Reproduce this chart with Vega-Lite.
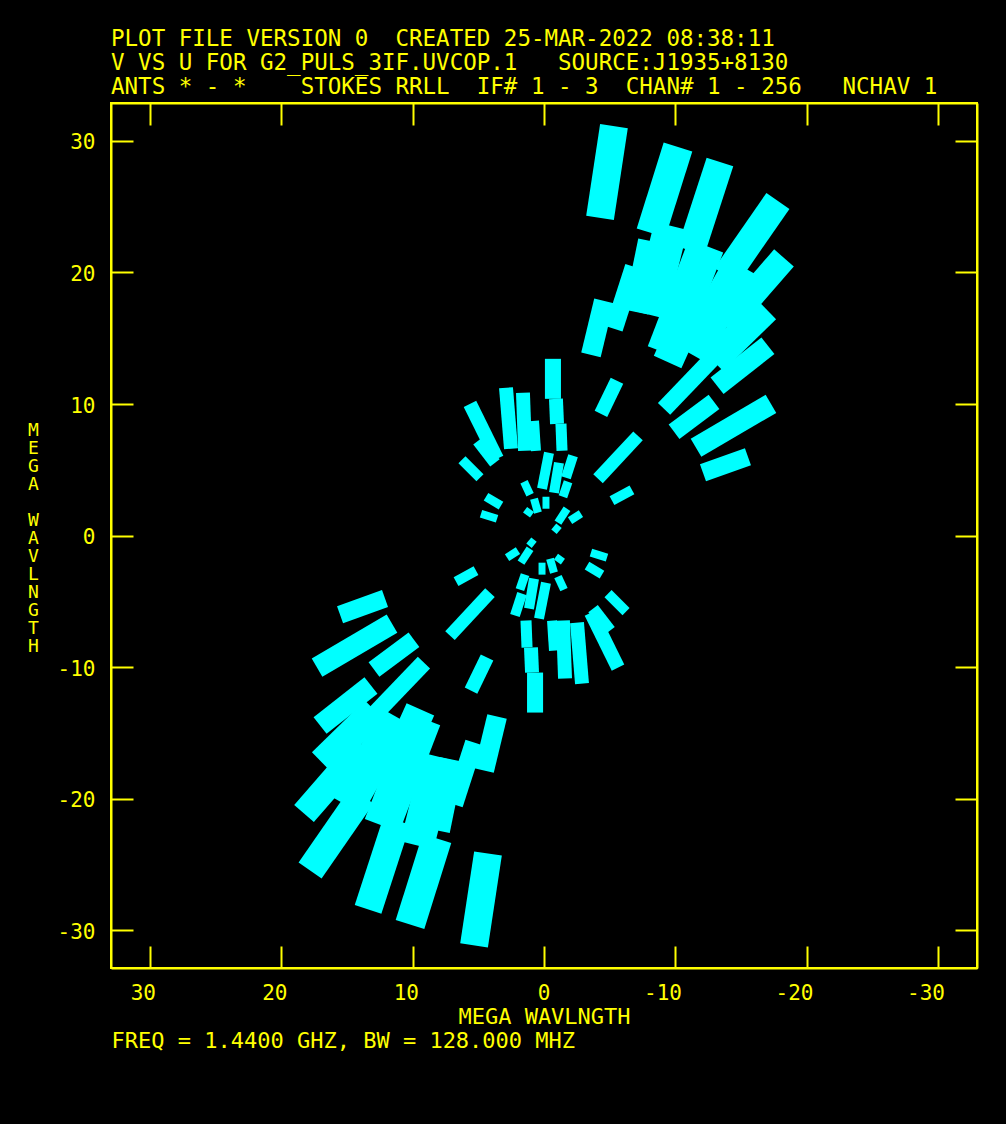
{
  "$schema": "https://vega.github.io/schema/vega-lite/v6.json",
  "width": 866,
  "height": 865,
  "autosize": "none",
  "padding": {"left": 111, "top": 103, "right": 29, "bottom": 156},
  "background": "#000000",
  "config": {
    "view": {"stroke": "#ffff00", "strokeWidth": 2},
    "axis": {
      "domainColor": "#ffff00", "domainWidth": 2,
      "tickColor": "#ffff00", "tickWidth": 2,
      "labelColor": "#ffff00", "labelFont": "DejaVu Sans Mono", "labelFontSize": 21,
      "titleColor": "#ffff00", "titleFont": "DejaVu Sans Mono", "titleFontSize": 22, "titleFontWeight": "normal",
      "grid": false
    }
  },
  "title": {
    "text": ["PLOT FILE VERSION 0 \u00a0CREATED 25-MAR-2022 08:38:11", "V VS U FOR G2_PULS_3IF.UVCOP.1 \u00a0\u00a0SOURCE:J1935+8130", "ANTS * - * \u00a0\u00a0\u00a0STOKES RRLL \u00a0IF# 1 - 3 \u00a0CHAN# 1 - 256 \u00a0\u00a0NCHAV 1"],
    "anchor": "start", "frame": "group",
    "font": "DejaVu Sans Mono", "fontSize": 22.5, "fontWeight": "normal",
    "color": "#ffff00", "lineHeight": 24, "offset": 4
  },
  "data": {"values": [
    {"u1": -5.32, "v1": 31.13, "u2": -4.26, "v2": 24.15, "w": 2.13},
    {"u1": -10.19, "v1": 29.54, "u2": -8.14, "v2": 23.01, "w": 2.28},
    {"u1": -13.38, "v1": 28.40, "u2": -11.18, "v2": 21.64, "w": 2.13},
    {"u1": -17.79, "v1": 25.44, "u2": -13.84, "v2": 19.74, "w": 2.13},
    {"u1": -18.25, "v1": 21.11, "u2": -13.76, "v2": 15.95, "w": 1.98},
    {"u1": -4.56, "v1": 17.84, "u2": -3.57, "v2": 13.74, "w": 1.52},
    {"u1": -6.84, "v1": 20.43, "u2": -5.32, "v2": 15.72, "w": 1.37},
    {"u1": -8.10, "v1": 22.40, "u2": -7.00, "v2": 17.00, "w": 1.9},
    {"u1": -9.66, "v1": 23.54, "u2": -7.98, "v2": 16.80, "w": 2.6},
    {"u1": -12.32, "v1": 22.02, "u2": -9.20, "v2": 13.90, "w": 2.8},
    {"u1": -14.98, "v1": 20.50, "u2": -11.18, "v2": 13.80, "w": 2.7},
    {"u1": -16.88, "v1": 17.24, "u2": -12.85, "v2": 13.30, "w": 2.2},
    {"u1": -11.20, "v1": 17.20, "u2": -9.40, "v2": 13.20, "w": 2.3},
    {"u1": -12.85, "v1": 13.52, "u2": -9.13, "v2": 9.64, "w": 1.29},
    {"u1": -17.03, "v1": 14.43, "u2": -13.16, "v2": 11.39, "w": 1.6},
    {"u1": -12.93, "v1": 10.17, "u2": -9.89, "v2": 7.90, "w": 1.37},
    {"u1": -17.26, "v1": 10.02, "u2": -11.56, "v2": 6.68, "w": 1.6},
    {"u1": -15.51, "v1": 6.00, "u2": -12.09, "v2": 4.78, "w": 1.37},
    {"u1": -7.15, "v1": 7.59, "u2": -4.11, "v2": 4.33, "w": 0.99},
    {"u1": -5.55, "v1": 11.77, "u2": -4.33, "v2": 9.26, "w": 1.06},
    {"u1": -6.69, "v1": 3.49, "u2": -5.17, "v2": 2.66, "w": 0.76},
    {"u1": -0.68, "v1": 13.44, "u2": -0.68, "v2": 10.40, "w": 1.22},
    {"u1": -0.91, "v1": 10.40, "u2": -0.99, "v2": 8.50, "w": 1.06},
    {"u1": -1.29, "v1": 8.50, "u2": -1.37, "v2": 6.45, "w": 0.84},
    {"u1": 2.89, "v1": 11.24, "u2": 2.51, "v2": 6.61, "w": 1.06},
    {"u1": 1.60, "v1": 10.86, "u2": 1.44, "v2": 6.45, "w": 1.06},
    {"u1": 5.63, "v1": 10.02, "u2": 3.57, "v2": 5.85, "w": 1.06},
    {"u1": 5.02, "v1": 7.21, "u2": 3.73, "v2": 5.54, "w": 0.91},
    {"u1": 0.76, "v1": 8.73, "u2": 0.61, "v2": 6.45, "w": 0.76},
    {"u1": 6.24, "v1": 5.77, "u2": 4.87, "v2": 4.40, "w": 0.76},
    {"u1": 4.41, "v1": 2.96, "u2": 3.27, "v2": 2.28, "w": 0.68},
    {"u1": 4.79, "v1": 1.67, "u2": 3.57, "v2": 1.29, "w": 0.61},
    {"u1": -0.38, "v1": 6.30, "u2": 0.15, "v2": 3.57, "w": 0.76},
    {"u1": -1.14, "v1": 5.54, "u2": -0.76, "v2": 3.26, "w": 0.76},
    {"u1": -2.21, "v1": 6.07, "u2": -1.67, "v2": 4.40, "w": 0.76},
    {"u1": -1.83, "v1": 4.10, "u2": -1.44, "v2": 2.96, "w": 0.68},
    {"u1": 1.52, "v1": 4.10, "u2": 1.06, "v2": 3.11, "w": 0.61},
    {"u1": 0.76, "v1": 2.81, "u2": 0.46, "v2": 1.75, "w": 0.61},
    {"u1": -0.15, "v1": 2.96, "u2": -0.15, "v2": 2.05, "w": 0.53},
    {"u1": 1.44, "v1": 1.97, "u2": 0.91, "v2": 1.59, "w": 0.53},
    {"u1": -1.75, "v1": 2.05, "u2": -1.06, "v2": 0.99, "w": 0.61},
    {"u1": -2.81, "v1": 1.67, "u2": -1.98, "v2": 1.14, "w": 0.61},
    {"u1": -1.14, "v1": 0.76, "u2": -0.76, "v2": 0.30, "w": 0.53},

    {"u1": 5.32, "v1": -31.13, "u2": 4.26, "v2": -24.15, "w": 2.13},
    {"u1": 10.19, "v1": -29.54, "u2": 8.14, "v2": -23.01, "w": 2.28},
    {"u1": 13.38, "v1": -28.40, "u2": 11.18, "v2": -21.64, "w": 2.13},
    {"u1": 17.79, "v1": -25.44, "u2": 13.84, "v2": -19.74, "w": 2.13},
    {"u1": 18.25, "v1": -21.11, "u2": 13.76, "v2": -15.95, "w": 1.98},
    {"u1": 4.56, "v1": -17.84, "u2": 3.57, "v2": -13.74, "w": 1.52},
    {"u1": 6.84, "v1": -20.43, "u2": 5.32, "v2": -15.72, "w": 1.37},
    {"u1": 8.10, "v1": -22.40, "u2": 7.00, "v2": -17.00, "w": 1.9},
    {"u1": 9.66, "v1": -23.54, "u2": 7.98, "v2": -16.80, "w": 2.6},
    {"u1": 12.32, "v1": -22.02, "u2": 9.20, "v2": -13.90, "w": 2.8},
    {"u1": 14.98, "v1": -20.50, "u2": 11.18, "v2": -13.80, "w": 2.7},
    {"u1": 16.88, "v1": -17.24, "u2": 12.85, "v2": -13.30, "w": 2.2},
    {"u1": 11.20, "v1": -17.20, "u2": 9.40, "v2": -13.20, "w": 2.3},
    {"u1": 12.85, "v1": -13.52, "u2": 9.13, "v2": -9.64, "w": 1.29},
    {"u1": 17.03, "v1": -14.43, "u2": 13.16, "v2": -11.39, "w": 1.6},
    {"u1": 12.93, "v1": -10.17, "u2": 9.89, "v2": -7.90, "w": 1.37},
    {"u1": 17.26, "v1": -10.02, "u2": 11.56, "v2": -6.68, "w": 1.6},
    {"u1": 15.51, "v1": -6.00, "u2": 12.09, "v2": -4.78, "w": 1.37},
    {"u1": 7.15, "v1": -7.59, "u2": 4.11, "v2": -4.33, "w": 0.99},
    {"u1": 5.55, "v1": -11.77, "u2": 4.33, "v2": -9.26, "w": 1.06},
    {"u1": 6.69, "v1": -3.49, "u2": 5.17, "v2": -2.66, "w": 0.76},
    {"u1": 0.68, "v1": -13.44, "u2": 0.68, "v2": -10.40, "w": 1.22},
    {"u1": 0.91, "v1": -10.40, "u2": 0.99, "v2": -8.50, "w": 1.06},
    {"u1": 1.29, "v1": -8.50, "u2": 1.37, "v2": -6.45, "w": 0.84},
    {"u1": -2.89, "v1": -11.24, "u2": -2.51, "v2": -6.61, "w": 1.06},
    {"u1": -1.60, "v1": -10.86, "u2": -1.44, "v2": -6.45, "w": 1.06},
    {"u1": -5.63, "v1": -10.02, "u2": -3.57, "v2": -5.85, "w": 1.06},
    {"u1": -5.02, "v1": -7.21, "u2": -3.73, "v2": -5.54, "w": 0.91},
    {"u1": -0.76, "v1": -8.73, "u2": -0.61, "v2": -6.45, "w": 0.76},
    {"u1": -6.24, "v1": -5.77, "u2": -4.87, "v2": -4.40, "w": 0.76},
    {"u1": -4.41, "v1": -2.96, "u2": -3.27, "v2": -2.28, "w": 0.68},
    {"u1": -4.79, "v1": -1.67, "u2": -3.57, "v2": -1.29, "w": 0.61},
    {"u1": 0.38, "v1": -6.30, "u2": -0.15, "v2": -3.57, "w": 0.76},
    {"u1": 1.14, "v1": -5.54, "u2": 0.76, "v2": -3.26, "w": 0.76},
    {"u1": 2.21, "v1": -6.07, "u2": 1.67, "v2": -4.40, "w": 0.76},
    {"u1": 1.83, "v1": -4.10, "u2": 1.44, "v2": -2.96, "w": 0.68},
    {"u1": -1.52, "v1": -4.10, "u2": -1.06, "v2": -3.11, "w": 0.61},
    {"u1": -0.76, "v1": -2.81, "u2": -0.46, "v2": -1.75, "w": 0.61},
    {"u1": 0.15, "v1": -2.96, "u2": 0.15, "v2": -2.05, "w": 0.53},
    {"u1": -1.44, "v1": -1.97, "u2": -0.91, "v2": -1.59, "w": 0.53},
    {"u1": 1.75, "v1": -2.05, "u2": 1.06, "v2": -0.99, "w": 0.61},
    {"u1": 2.81, "v1": -1.67, "u2": 1.98, "v2": -1.14, "w": 0.61},
    {"u1": 1.14, "v1": -0.76, "u2": 0.76, "v2": -0.30, "w": 0.53}
  ]},
  "resolve": {"axis": {"x": "independent", "y": "independent"}},
  "layer": [
    {
      "mark": {"type": "rule", "color": "#00ffff", "strokeCap": "butt"},
      "encoding": {
        "x": {"field": "u1", "type": "quantitative",
          "scale": {"domain": [-32.93, 32.93], "reverse": true, "nice": false, "zero": false},
          "axis": {"orient": "bottom", "values": [-30, -20, -10, 0, 10, 20, 30], "tickSize": -22,
            "labelPadding": 36, "labelAlign": "right", "labelOffset": 6, "labelExpr": "'' + datum.value",
            "title": "MEGA WAVLNGTH", "titleY": 38, "titleBaseline": "top"}},
        "y": {"field": "v1", "type": "quantitative",
          "scale": {"domain": [-32.85, 32.88], "nice": false, "zero": false},
          "axis": {"orient": "left", "values": [-30, -20, -10, 0, 10, 20, 30], "tickSize": -22,
            "labelPadding": 38, "labelBaseline": "middle", "labelOffset": 2, "labelExpr": "'' + datum.value",
            "title": ["M", "E", "G", "A"],
            "titleAngle": 0, "titleX": -78, "titleY": 318, "titleAlign": "center", "titleBaseline": "top",
            "titleLineHeight": 18, "titleFontSize": 18}},
        "x2": {"field": "u2"},
        "y2": {"field": "v2"},
        "strokeWidth": {"field": "w", "type": "quantitative", "scale": {"domain": [0, 3], "range": [0, 39.45], "zero": true}, "legend": null}
      }
    },
    {
      "mark": {"type": "rule", "opacity": 0},
      "encoding": {
        "x": {"field": "u1", "type": "quantitative",
          "axis": {"orient": "top", "values": [-30, -20, -10, 0, 10, 20, 30], "tickSize": -22, "labels": false, "title": null}},
        "y": {"field": "v1", "type": "quantitative",
          "axis": {"orient": "right", "values": [-30, -20, -10, 0, 10, 20, 30], "tickSize": -22, "labels": false, "title": null}}
      }
    },
    {
      "mark": {"type": "rule", "opacity": 0},
      "encoding": {
        "x": {"field": "u1", "type": "quantitative",
          "axis": {"orient": "bottom", "ticks": false, "labels": false, "domain": false,
            "title": "FREQ = 1.4400 GHZ, BW = 128.000 MHZ", "titleAnchor": "start", "titleAlign": "left",
            "titleX": 0, "titleY": 62, "titleBaseline": "top"}},
        "y": {"field": "v1", "type": "quantitative",
          "axis": {"orient": "left", "ticks": false, "labels": false, "domain": false,
            "title": ["W", "A", "V", "L", "N", "G", "T", "H"],
            "titleAngle": 0, "titleX": -78, "titleY": 408, "titleAlign": "center", "titleBaseline": "top",
            "titleLineHeight": 18, "titleFontSize": 18}}
      }
    }
  ]
}
